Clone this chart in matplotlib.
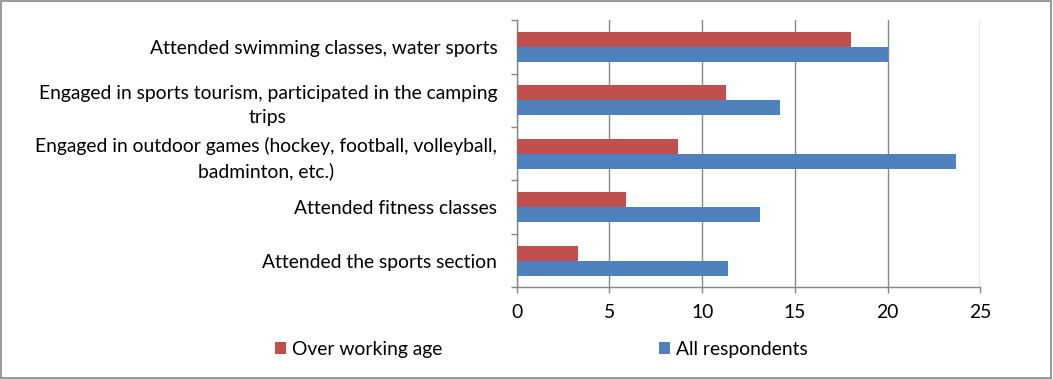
import matplotlib.pyplot as plt
from matplotlib.patches import Rectangle
import numpy as np

plt.rcParams["font.family"] = ["Lato", "DejaVu Sans"]

# Data (bottom to top, as drawn)
categories = [
    "Attended the sports section",
    "Attended fitness classes",
    "Engaged in outdoor games (hockey, football, volleyball,\nbadminton, etc.)",
    "Engaged in sports tourism, participated in the camping\ntrips",
    "Attended swimming classes, water sports",
]
over_working_age = [3.3, 5.9, 8.7, 11.3, 18.0]
all_respondents = [11.4, 13.1, 23.7, 14.2, 20.0]
x_ticks = [0, 5, 10, 15, 20, 25]

C_RED = "#C0504D"
C_BLUE = "#4F81BD"
C_GRID = "#868686"
FS = 13.9

fig = plt.figure(figsize=(10.53, 3.79), dpi=100)
ax = fig.add_axes([0.4907, 0.242, 0.4403, 0.705])

y = np.arange(len(categories))
h = 0.28
ax.barh(y + h / 2, over_working_age, height=h, color=C_RED, label="Over working age", zorder=3)
ax.barh(y - h / 2, all_respondents, height=h, color=C_BLUE, label="All respondents", zorder=3)

ax.set_xlim(0, 25)
ax.set_ylim(-0.5, len(categories) - 0.5)
ax.set_xticks(x_ticks)
ax.set_yticks(y)
ax.set_yticklabels(categories, fontsize=FS, multialignment="center", linespacing=1.5)
ax.set_yticks(np.arange(-0.5, len(categories)), minor=True)

ax.grid(True, axis="x", color=C_GRID, lw=1, zorder=0)
for s in ["top", "right"]:
    ax.spines[s].set_visible(False)
for s in ["left", "bottom"]:
    ax.spines[s].set_color(C_GRID)
    ax.spines[s].set_linewidth(1)

ax.tick_params(axis="y", which="major", length=0, pad=14)
ax.tick_params(axis="y", which="minor", length=4, color=C_GRID, width=1)
ax.tick_params(axis="x", which="major", length=4, color=C_GRID, width=1, pad=8, labelsize=FS)

fig.legend(loc="center left", bbox_to_anchor=(275 / 1053, 1 - 349 / 379), ncol=2,
           frameon=False, borderpad=0, borderaxespad=0,
           fontsize=FS, handlelength=0.58, handleheight=0.58, handletextpad=0.32,
           columnspacing=11.2)

fig.patches.append(Rectangle((0.001, 0.002), 0.997, 0.995, transform=fig.transFigure,
                             fill=False, edgecolor=C_GRID, lw=1.2))

fig.savefig("out.png", dpi=100, facecolor="white")
